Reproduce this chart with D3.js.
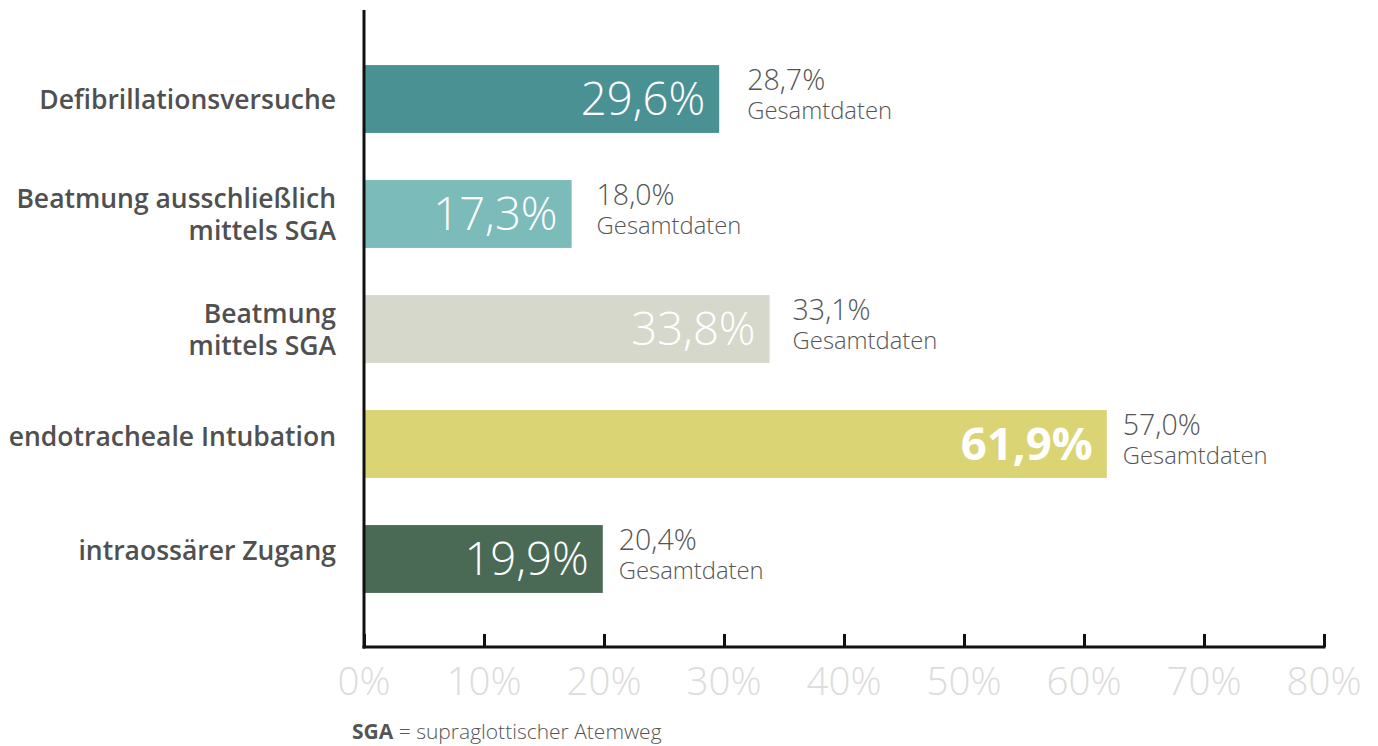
<!DOCTYPE html>
<html>
<head>
<meta charset="UTF-8">
<title>Maßnahmen</title>
<script src="https://d3js.org/d3.v7.min.js"></script>
<style>
  body { margin: 0; background: #fff; }
  text { font-family: "Open Sans", sans-serif; }
</style>
</head>
<body>
<div id="chart"></div>
<script>
  // data
  const categories = [
    ["Defibrillationsversuche"],
    ["Beatmung ausschließlich", "mittels SGA"],
    ["Beatmung", "mittels SGA"],
    ["endotracheale Intubation"],
    ["intraossärer Zugang"]
  ];
  const values = [29.6, 17.3, 33.8, 61.9, 19.9];
  const totals = [28.7, 18.0, 33.1, 57.0, 20.4];
  const colors = ["#4a9194", "#7bbbb9", "#d6d8cb", "#dad474", "#4a6a55"];
  const ticks = [0, 10, 20, 30, 40, 50, 60, 70, 80];

  // small hand placement tweaks, as in the original layout
  const labelShift = [0, 0, 0, -8, -9];
  const sideGap = [28, 25, 23, 16, 16];

  const width = 1378, height = 746;
  const fmt = v => v.toFixed(1).replace(".", ",") + "%";

  const svg = d3.select("#chart").append("svg")
    .attr("width", width)
    .attr("height", height);

  const x = d3.scaleLinear().domain([0, 80]).range([364, 1324]);
  const y = d3.scaleBand()
    .domain(d3.range(categories.length))
    .range([41.5, 616.5])
    .paddingInner(0.41)
    .paddingOuter(0.205);

  const axisY = 647;

  // bars
  svg.selectAll("rect.bar")
    .data(values)
    .join("rect")
    .attr("class", "bar")
    .attr("x", x(0))
    .attr("y", (d, i) => y(i))
    .attr("width", d => x(d) - x(0))
    .attr("height", y.bandwidth())
    .attr("fill", (d, i) => colors[i]);

  // value inside bar
  svg.selectAll("text.inside")
    .data(values)
    .join("text")
    .attr("class", "inside")
    .attr("x", d => x(d) - 14)
    .attr("y", (d, i) => y(i) + y.bandwidth() / 2)
    .attr("dy", "0.36em")
    .attr("text-anchor", "end")
    .attr("fill", "#fff")
    .attr("font-size", 45.5)
    .attr("font-weight", d => d === d3.max(values) ? 700 : 300)
    .text(fmt);

  // total data next to bar
  const side = svg.selectAll("g.side")
    .data(totals)
    .join("g")
    .attr("class", "side")
    .attr("transform", (d, i) => `translate(${x(values[i]) + sideGap[i]},${y(i) + y.bandwidth() / 2})`);
  side.append("text")
    .attr("y", -9)
    .attr("fill", "#555")
    .attr("font-size", 28.5)
    .attr("font-weight", 300)
    .text(fmt);
  side.append("text")
    .attr("y", 20)
    .attr("fill", "#555")
    .attr("font-size", 23.8)
    .attr("font-weight", 300)
    .text("Gesamtdaten");

  // category labels
  svg.selectAll("text.cat")
    .data(categories)
    .join("text")
    .attr("class", "cat")
    .attr("x", 336)
    .attr("y", (d, i) => y(i) + y.bandwidth() / 2 - (d.length - 1) * 16 + labelShift[i])
    .attr("text-anchor", "end")
    .attr("fill", "#505050")
    .attr("font-size", 26.5)
    .attr("font-weight", 600)
    .selectAll("tspan")
    .data(d => d)
    .join("tspan")
    .attr("x", 336)
    .attr("dy", (d, i) => i === 0 ? "0.36em" : 32)
    .text(d => d);

  // x axis
  const xAxis = d3.axisTop(x)
    .tickValues(ticks)
    .tickSize(13)
    .tickFormat("");
  const gx = svg.append("g")
    .attr("transform", `translate(0,${axisY})`)
    .call(xAxis);
  gx.select(".domain").remove();
  gx.selectAll(".tick line").attr("stroke", "#111").attr("stroke-width", 3);
  gx.append("line")
    .attr("x1", x(0) - 1.5).attr("x2", x(80) + 1.5)
    .attr("stroke", "#111").attr("stroke-width", 3);

  svg.selectAll("text.tick")
    .data(ticks)
    .join("text")
    .attr("class", "tick")
    .attr("x", d => x(d))
    .attr("y", axisY + 34)
    .attr("dy", "0.36em")
    .attr("text-anchor", "middle")
    .attr("fill", "#dcdcdc")
    .attr("font-size", 38.5)
    .attr("font-weight", 300)
    .text(d => d + "%");

  // y axis line
  svg.append("line")
    .attr("x1", x(0)).attr("x2", x(0))
    .attr("y1", 10).attr("y2", axisY + 1.5)
    .attr("stroke", "#111").attr("stroke-width", 3);

  // footnote
  const note = svg.append("text")
    .attr("x", 352)
    .attr("y", 739)
    .attr("fill", "#555")
    .attr("font-size", 21)
    .attr("font-weight", 300);
  note.append("tspan").attr("font-weight", 700).text("SGA");
  note.append("tspan").text(" = supraglottischer Atemweg");
</script>
</body>
</html>
